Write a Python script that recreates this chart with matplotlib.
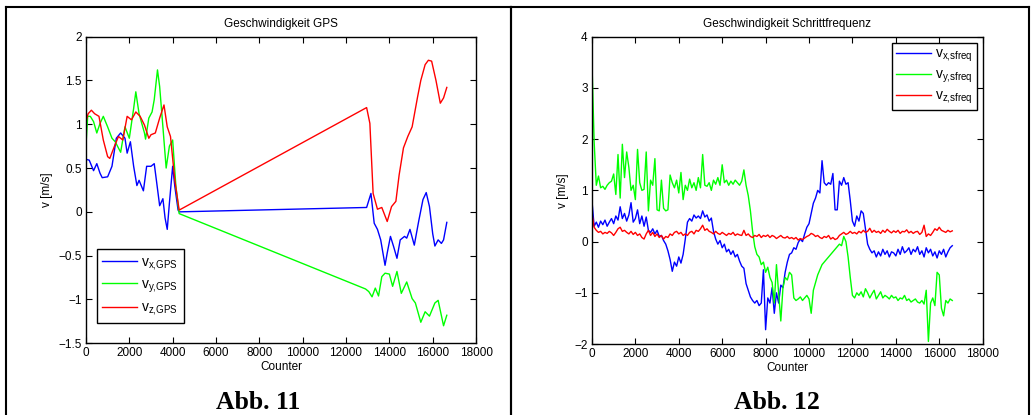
import numpy as np
import matplotlib
matplotlib.use("Agg")
import matplotlib.pyplot as plt
from matplotlib.lines import Line2D
from matplotlib.ticker import FuncFormatter

plt.rcParams['font.family'] = ['Liberation Sans', 'DejaVu Sans']
plt.rcParams['mathtext.default'] = 'regular'
plt.rcParams['axes.unicode_minus'] = True

# ---- Abb. 11: GPS velocities ----
gps_x_cnt = [0, 150, 350, 500, 650, 750, 1000, 1200, 1400, 1600, 1800, 1900, 2050, 2200,
             2350, 2450, 2650, 2800, 3000, 3150, 3250, 3400, 3550, 3650, 3750, 3850, 4000,
             4100, 4250, 4300, 12950, 13150, 13300, 13450, 13600, 13800, 13900, 14050, 14200,
             14350, 14500, 14700, 14800, 14950, 15150, 15350, 15550, 15700, 15850, 16000,
             16100, 16250, 16400, 16500, 16650]
gps_x = [0.60, 0.59, 0.47, 0.55, 0.44, 0.39, 0.40, 0.52, 0.84, 0.90, 0.84, 0.67, 0.80, 0.52,
         0.30, 0.36, 0.24, 0.52, 0.52, 0.55, 0.36, 0.07, 0.15, -0.07, -0.20, 0.10, 0.52,
         0.29, 0.02, 0.00, 0.05, 0.21, -0.13, -0.20, -0.32, -0.61, -0.47, -0.28, -0.40,
         -0.53, -0.32, -0.28, -0.30, -0.20, -0.38, -0.11, 0.14, 0.22, 0.06, -0.25,
         -0.39, -0.32, -0.36, -0.32, -0.12]

gps_y_cnt = [0, 80, 200, 350, 500, 650, 800, 1000, 1200, 1350, 1600, 1800, 2000, 2200, 2300,
             2450, 2700, 2750, 2900, 3050, 3150, 3300, 3400, 3550, 3700, 3850, 4000, 4150,
             4300, 12900, 13050, 13200, 13350, 13500, 13650, 13800, 14000, 14150, 14350,
             14550, 14800, 15050, 15200, 15450, 15650, 15850, 16100, 16250, 16500, 16650]
gps_y = [0.76, 1.09, 1.09, 1.03, 0.90, 1.01, 1.09, 0.97, 0.84, 0.80, 0.68, 0.97, 0.84, 1.18, 1.37,
         1.12, 0.90, 0.83, 1.07, 1.14, 1.28, 1.62, 1.43, 0.97, 0.50, 0.75, 0.82, 0.29,
         -0.02, -0.88, -0.91, -0.97, -0.87, -0.96, -0.74, -0.70, -0.71, -0.85, -0.68,
         -0.93, -0.80, -0.99, -1.04, -1.26, -1.14, -1.19, -1.04, -1.01, -1.30, -1.18]

gps_z_cnt = [0, 100, 250, 400, 600, 800, 1000, 1100, 1300, 1500, 1700, 1900, 2100, 2300, 2500,
             2700, 2900, 3000, 3200, 3400, 3600, 3750, 3900, 4100, 4300, 12950, 13100, 13250,
             13450, 13650, 13900, 14100, 14300, 14450, 14650, 14850, 15050, 15300, 15450,
             15650, 15800, 15950, 16150, 16350, 16500, 16650]
gps_z = [1.03, 1.12, 1.16, 1.12, 1.09, 0.82, 0.63, 0.61, 0.74, 0.86, 0.82, 1.09, 1.05, 1.14, 1.09,
         0.99, 0.84, 0.88, 0.90, 1.07, 1.22, 0.97, 0.86, 0.36, 0.02, 1.19, 1.01, 0.21,
         0.03, 0.05, -0.11, 0.06, 0.12, 0.42, 0.73, 0.86, 0.97, 1.31, 1.50,
         1.68, 1.73, 1.72, 1.50, 1.24, 1.30, 1.42]

# ---- Abb. 12: step-frequency velocities, one value every 100 counts ----
sf_cnt = list(range(0, 16700, 100))
sf_x = [0.80, 0.30, 0.38, 0.28, 0.40, 0.33, 0.42, 0.30, 0.38, 0.45,
        0.35, 0.50, 0.42, 0.68, 0.45, 0.55, 0.40, 0.52, 0.76, 0.38,
        0.45, 0.62, 0.35, 0.50, 0.30, 0.48, 0.22, 0.18, 0.25, 0.15,
        0.22, 0.10, 0.12, 0.02, -0.05, -0.18, -0.35, -0.58, -0.40, -0.48,
        -0.30, -0.42, -0.25, 0.05, 0.38, 0.45, 0.40, 0.52, 0.46, 0.50,
        0.45, 0.60, 0.48, 0.52, 0.40, 0.46, 0.20, 0.05, -0.05, 0.02,
        -0.12, -0.05, -0.20, -0.15, -0.25, -0.18, -0.30, -0.25, -0.38, -0.48,
        -0.52, -0.82, -0.95, -1.08, -1.15, -1.20, -1.15, -1.25, -1.20, -0.55,
        -1.72, -1.10, -1.20, -0.90, -1.40, -1.00, -1.20, -0.85, -0.90, -0.60,
        -0.40, -0.25, -0.22, -0.12, -0.15, -0.02, 0.05, 0.00, 0.15, 0.28,
        0.35, 0.55, 0.75, 0.85, 1.00, 0.95, 1.58, 1.15, 1.10, 1.15,
        1.12, 1.33, 0.62, 0.62, 1.18, 1.10, 1.25, 1.12, 1.15, 0.80,
        0.40, 0.30, 0.50, 0.40, 0.60, 0.55, 0.25, -0.05, -0.15, -0.22,
        -0.18, -0.30, -0.20, -0.28, -0.15, -0.25, -0.18, -0.30, -0.20, -0.22,
        -0.28, -0.15, -0.25, -0.10, -0.22, -0.18, -0.12, -0.25, -0.15, -0.20,
        -0.10, -0.25, -0.18, -0.30, -0.12, -0.22, -0.15, -0.28, -0.20, -0.32,
        -0.18, -0.25, -0.15, -0.30, -0.20, -0.12, -0.08]
sf_y = [3.50, 1.95, 1.10, 1.28, 1.05, 1.08, 1.02, 1.10, 1.15, 1.18,
        1.32, 0.92, 1.70, 0.85, 1.90, 1.25, 1.75, 1.45, 1.00, 1.10,
        0.82, 1.80, 1.15, 1.00, 1.02, 1.75, 0.60, 1.20, 1.10, 1.62,
        0.62, 0.60, 1.20, 0.65, 0.60, 0.62, 1.30, 1.15, 1.05, 1.20,
        0.95, 1.35, 0.82, 1.10, 1.00, 1.22, 1.05, 1.15, 1.00, 1.25,
        1.05, 1.70, 1.10, 1.08, 1.15, 1.00, 1.20, 1.12, 1.25, 1.10,
        1.50, 1.15, 1.20, 1.10, 1.18, 1.12, 1.20, 1.15, 1.10, 1.18,
        1.40, 1.10, 0.90, 0.60, 0.20, -0.10, -0.25, -0.30, -0.45, -0.40,
        -0.60, -0.50, -0.70, -0.80, -1.20, -0.45, -1.00, -1.55, -0.90, -0.70,
        -0.75, -0.60, -0.65, -1.10, -1.15, -1.12, -1.08, -1.15, -1.10, -1.05,
        -1.12, -1.40, -0.95, -0.80, -0.65, -0.55, -0.45, -0.40, -0.35, -0.30,
        -0.25, -0.20, -0.15, -0.10, -0.05, -0.08, 0.10, 0.00, -0.30, -0.70,
        -1.05, -1.10, -1.00, -1.05, -0.98, -1.08, -0.92, -1.00, -1.10, -1.02,
        -0.95, -1.12, -1.05, -0.98, -1.10, -1.05, -1.08, -1.12, -1.05, -1.10,
        -1.08, -1.15, -1.10, -1.12, -1.05, -1.15, -1.12, -1.18, -1.15, -1.12,
        -1.18, -1.20, -1.15, -1.22, -0.95, -1.95, -1.20, -1.10, -1.25, -0.60,
        -0.65, -1.30, -1.45, -1.15, -1.20, -1.12, -1.15]
sf_z = [0.55, 0.28, 0.22, 0.18, 0.20, 0.15, 0.18, 0.16, 0.20, 0.17,
        0.12, 0.18, 0.25, 0.28, 0.20, 0.22, 0.18, 0.15, 0.20, 0.14,
        0.18, 0.12, 0.15, 0.08, 0.05, 0.15, 0.22, 0.12, 0.18, 0.10,
        0.15, 0.08, 0.12, 0.05, 0.10, 0.08, 0.15, 0.12, 0.18, 0.20,
        0.15, 0.18, 0.12, 0.15, 0.12, 0.18, 0.20, 0.15, 0.22, 0.20,
        0.25, 0.32, 0.22, 0.25, 0.20, 0.18, 0.15, 0.20, 0.16, 0.14,
        0.18, 0.15, 0.12, 0.16, 0.14, 0.18, 0.12, 0.15, 0.13, 0.12,
        0.22, 0.12, 0.15, 0.10, 0.08, 0.12, 0.10, 0.14, 0.08, 0.12,
        0.10, 0.13, 0.08, 0.12, 0.10, 0.06, 0.09, 0.12, 0.08, 0.07,
        0.10, 0.06, 0.08, 0.05, 0.08, 0.03, 0.06, 0.04, 0.07, 0.10,
        0.12, 0.16, 0.14, 0.10, 0.12, 0.08, 0.06, 0.10, 0.08, 0.12,
        0.05, 0.08, 0.04, 0.06, 0.12, 0.15, 0.18, 0.14, 0.16, 0.20,
        0.16, 0.18, 0.15, 0.20, 0.17, 0.22, 0.18, 0.20, 0.26, 0.18,
        0.22, 0.18, 0.20, 0.16, 0.22, 0.18, 0.24, 0.20, 0.17, 0.21,
        0.18, 0.22, 0.16, 0.20, 0.19, 0.23, 0.17, 0.20, 0.16, 0.19,
        0.20, 0.14, 0.18, 0.32, 0.10, 0.15, 0.12, 0.18, 0.25, 0.22,
        0.28, 0.22, 0.20, 0.18, 0.22, 0.19, 0.21]

gps_labels = ['v$_{x{,}GPS}$', 'v$_{y{,}GPS}$', 'v$_{z{,}GPS}$']
sf_labels = ['v$_{x{,}sfreq}$', 'v$_{y{,}sfreq}$', 'v$_{z{,}sfreq}$']
xticks = list(range(0, 18001, 2000))

fig = plt.figure(figsize=(10.32, 4.15), dpi=100)
ax1 = fig.add_axes([0.0833, 0.1728, 0.378, 0.739])
ax2 = fig.add_axes([0.5736, 0.171, 0.3786, 0.7405])

fmt = FuncFormatter(lambda v, p: ('%g' % v).replace('-', '\u2212'))


def style(ax, title, ylim, yticks):
    ax.set_xlim(0, 18000)
    ax.set_ylim(*ylim)
    ax.set_xticks(xticks)
    ax.set_yticks(yticks)
    ax.xaxis.set_major_formatter(fmt)
    ax.yaxis.set_major_formatter(fmt)
    ax.tick_params(direction='in', top=True, right=True, length=4, width=0.8,
                   labelsize=8.5, pad=3)
    for s in ax.spines.values():
        s.set_linewidth(1.0)
    ax.set_title(title, fontsize=8.5, pad=7)
    ax.set_xlabel('Counter', fontsize=8.5, labelpad=1)
    ax.set_ylabel('v [m/s]', fontsize=8.5, labelpad=4)


lw = 1.0
ax1.plot(gps_x_cnt, gps_x, color='#0000ff', lw=lw, label=gps_labels[0])
ax1.plot(gps_y_cnt, gps_y, color='#00ff00', lw=lw, label=gps_labels[1])
ax1.plot(gps_z_cnt, gps_z, color='#ff0000', lw=lw, label=gps_labels[2])
style(ax1, 'Geschwindigkeit GPS', (-1.5, 2), [-1.5, -1, -0.5, 0, 0.5, 1, 1.5, 2])
leg1 = ax1.legend(loc='lower left', bbox_to_anchor=(0.028, 0.066), fontsize=10,
                  handlelength=2.5, handletextpad=0.3, labelspacing=0.42, borderpad=0.4,
                  borderaxespad=0, fancybox=False, framealpha=1, edgecolor='black')
leg1.get_frame().set_linewidth(1.0)

ax2.plot(sf_cnt, sf_x, color='#0000ff', lw=lw, label=sf_labels[0])
ax2.plot(sf_cnt, sf_y, color='#00ff00', lw=lw, label=sf_labels[1])
ax2.plot(sf_cnt, sf_z, color='#ff0000', lw=lw, label=sf_labels[2])
style(ax2, 'Geschwindigkeit Schrittfrequenz', (-2, 4), [-2, -1, 0, 1, 2, 3, 4])
leg2 = ax2.legend(loc='upper right', bbox_to_anchor=(0.985, 0.98), fontsize=10,
                  handlelength=2.5, handletextpad=0.3, labelspacing=0.25, borderpad=0.3,
                  borderaxespad=0, fancybox=False, framealpha=1, edgecolor='black')
leg2.get_frame().set_linewidth(1.0)

# frames around the two figures
W, H = 1032.0, 415.0
for (x0, x1) in [(6, 511), (511, 1029)]:
    fig.add_artist(Line2D([x0 / W, x1 / W], [1 - 7 / H, 1 - 7 / H], color='black', lw=1.5))
    fig.add_artist(Line2D([x0 / W, x0 / W], [0, 1 - 7 / H], color='black', lw=1.5))
    fig.add_artist(Line2D([x1 / W, x1 / W], [0, 1 - 7 / H], color='black', lw=1.5))

fig.text(258 / W, 1 - 402 / H, 'Abb. 11', family=['Liberation Serif'], weight='bold',
         fontsize=18.5, ha='center', va='center')
fig.text(777 / W, 1 - 402 / H, 'Abb. 12', family=['Liberation Serif'], weight='bold',
         fontsize=18.5, ha='center', va='center')

fig.savefig('out.png', dpi=100)
